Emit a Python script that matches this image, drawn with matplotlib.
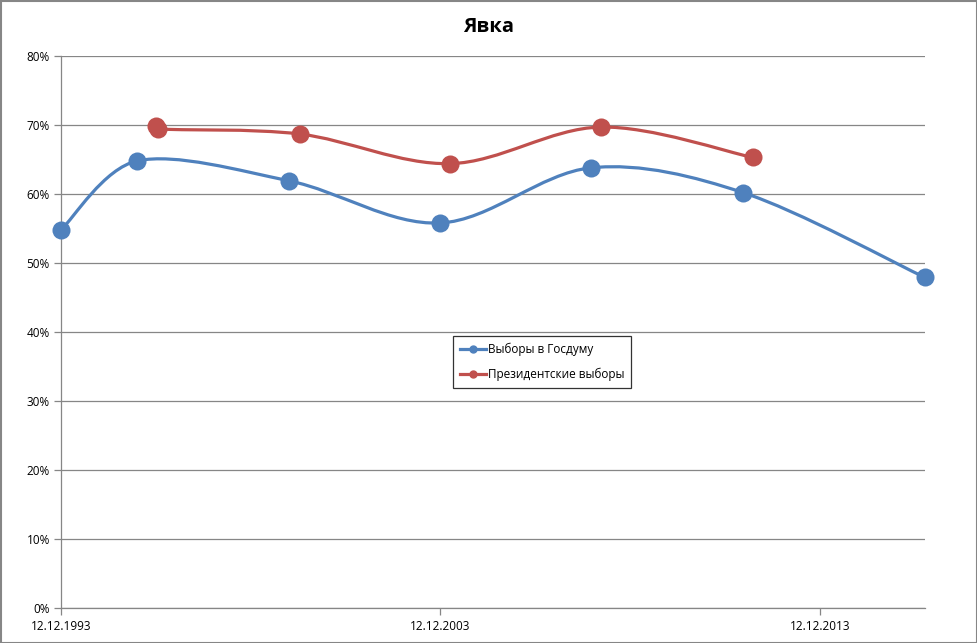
import numpy as np
import datetime as dt
import matplotlib
matplotlib.use('Agg')
import matplotlib.pyplot as plt
import matplotlib.dates as mdates
from matplotlib.path import Path
from matplotlib.patches import PathPatch
from matplotlib.lines import Line2D

plt.rcParams['font.family'] = ['Open Sans', 'DejaVu Sans']

# data
duma_dates = ['1993-12-12', '1995-12-17', '1999-12-19', '2003-12-07',
              '2007-12-02', '2011-12-04', '2016-09-18']
duma_vals = [54.8, 64.8, 61.9, 55.8, 63.8, 60.2, 47.9]
pres_dates = ['1996-06-16', '1996-07-03', '2000-03-26', '2004-03-14',
              '2008-03-02', '2012-03-04']
pres_vals = [69.8, 69.4, 68.7, 64.4, 69.7, 65.3]
tick_dates = ['1993-12-12', '2003-12-12', '2013-12-12']
title = 'Явка'
series_names = ['Выборы в Госдуму', 'Президентские выборы']

BLUE = '#4F81BD'
RED = '#C0504D'
GRID = '#868686'


def to_num(ds):
    return mdates.date2num([dt.datetime.strptime(d, '%Y-%m-%d') for d in ds])


def smooth_path(ax, x, y):
    # Excel style smoothing: cubic Bezier, Catmull-Rom control points,
    # computed in pixels and capped so short segments don't loop
    pts = ax.transData.transform(np.column_stack([x, y]))
    n = len(pts)
    verts = [pts[0]]
    codes = [Path.MOVETO]
    for i in range(n - 1):
        p0 = pts[i - 1] if i > 0 else pts[i]
        p1 = pts[i]
        p2 = pts[i + 1]
        p3 = pts[i + 2] if i + 2 < n else pts[i + 1]
        seg = np.hypot(*(p2 - p1))
        t1 = (p2 - p0) / 6.0
        t2 = (p3 - p1) / 6.0
        for t in (t1, t2):
            L = np.hypot(*t)
            if L > seg / 3.0 and L > 0:
                t *= (seg / 3.0) / L
        verts += [p1 + t1, p2 - t2, p2]
        codes += [Path.CURVE4] * 3
    verts = ax.transData.inverted().transform(np.array(verts))
    return Path(verts, codes)


fig = plt.figure(figsize=(9.77, 6.43), dpi=100)
ax = fig.add_axes([61 / 977, 35 / 643, 864 / 977, 552 / 643])

xd = to_num(duma_dates)
xp = to_num(pres_dates)

ax.set_xlim(xd[0], xd[-1])
ax.set_ylim(0, 80)

for xs, ys, c in [(xd, duma_vals, BLUE), (xp, pres_vals, RED)]:
    ax.add_patch(PathPatch(smooth_path(ax, xs, ys), facecolor='none', edgecolor=c,
                           lw=2.3, zorder=3, capstyle='round'))
    ax.plot(xs, ys, 'o', color=c, markersize=13, zorder=4, markeredgewidth=0,
            clip_on=False)

ax.set_yticks(np.arange(0, 81, 10))
ax.set_yticklabels(['%d%%' % v for v in range(0, 81, 10)])
ax.set_xticks(to_num(tick_dates))
ax.set_xticklabels([d[8:10] + '.' + d[5:7] + '.' + d[0:4] for d in tick_dates])
ax.yaxis.grid(True, color=GRID, lw=0.9)
ax.set_axisbelow(True)
for s in ['top', 'right']:
    ax.spines[s].set_visible(False)
for s in ['left', 'bottom']:
    ax.spines[s].set_color(GRID)
    ax.spines[s].set_linewidth(0.9)
ax.tick_params(axis='both', colors=GRID, labelcolor='black', labelsize=8.5,
               length=5, width=0.9)
ax.tick_params(axis='x', pad=4)
ax.tick_params(axis='y', pad=3)

fig.text(0.5, 1 - 27 / 643, title, ha='center', va='center', fontsize=14.5,
         fontweight='bold')

handles = [Line2D([], [], color=BLUE, lw=2.3, marker='o', markersize=5),
           Line2D([], [], color=RED, lw=2.3, marker='o', markersize=5)]
leg = ax.legend(handles, series_names, loc='center',
                bbox_to_anchor=(542 / 977, 1 - 362 / 643),
                bbox_transform=fig.transFigure, fontsize=8.5, frameon=True,
                fancybox=False, handlelength=2.2, handletextpad=0.2,
                borderpad=0.55, labelspacing=1.0, borderaxespad=0)
leg.get_frame().set_edgecolor('black')
leg.get_frame().set_linewidth(0.9)
leg.set_zorder(5)

fig.patches.append(plt.Rectangle((0.5 / 977, 0.5 / 643), 976 / 977, 642 / 643,
                                 transform=fig.transFigure, fill=False,
                                 edgecolor=GRID, lw=1.5))

fig.savefig('out.png', dpi=100)
